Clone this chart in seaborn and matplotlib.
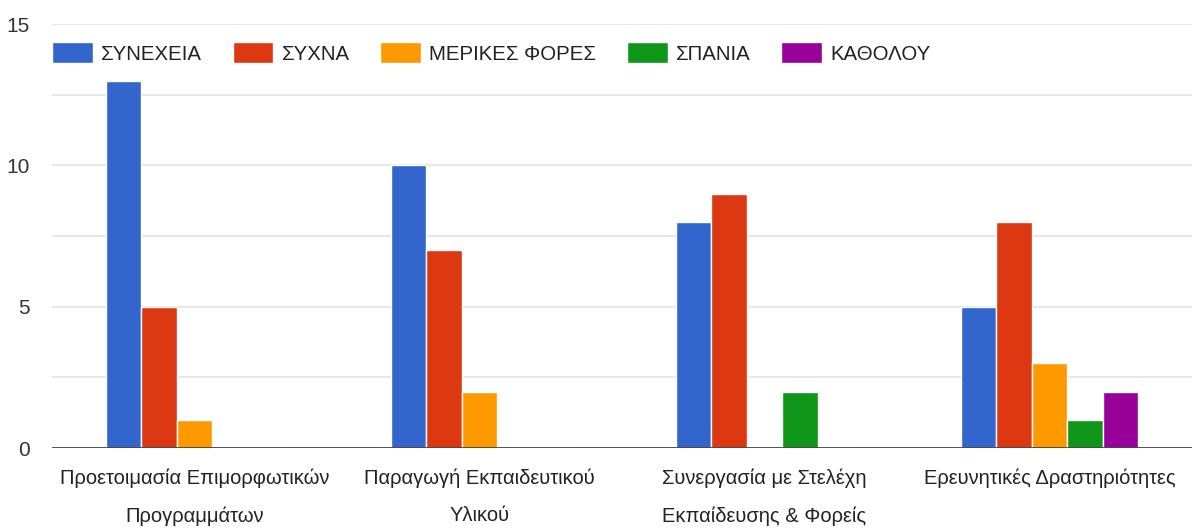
import matplotlib
matplotlib.use("Agg")
import numpy as np
import pandas as pd
import matplotlib.pyplot as plt
import seaborn as sns

# --------------------------------------------------------------------
# Data
# --------------------------------------------------------------------

categories = [
    "Προετοιμασία Επιμορφωτικών\nΠρογραμμάτων",
    "Παραγωγή Εκπαιδευτικού\nΥλικού",
    "Συνεργασία με Στελέχη\nΕκπαίδευσης & Φορείς",
    "Ερευνητικές Δραστηριότητες",
]
series = ["ΣΥΝΕΧΕΙΑ", "ΣΥΧΝΑ", "ΜΕΡΙΚΕΣ ΦΟΡΕΣ", "ΣΠΑΝΙΑ", "ΚΑΘΟΛΟΥ"]
synexeia = [13, 10, 8, 5]
syxna = [5, 7, 9, 8]
merikes = [1, 2, 0, 3]
spania = [0, 0, 2, 1]
katholou = [0, 0, 0, 2]
colors = ["#3366cc", "#dc3912", "#ff9900", "#109618", "#990099"]

rows = []
for name, vals in zip(series, [synexeia, syxna, merikes, spania, katholou]):
    for cat, v in zip(categories, vals):
        rows.append({"category": cat, "series": name, "value": v})
df = pd.DataFrame(rows)

# --------------------------------------------------------------------
# Plot
# --------------------------------------------------------------------

sns.set_style("white")
plt.rcParams["font.family"] = ["Liberation Sans", "DejaVu Sans"]

fig = plt.figure(figsize=(11.92, 5.29), dpi=100)
ax = fig.add_axes([0.0436, 0.153, 0.9564, 0.8016])

sns.barplot(data=df, x="category", y="value", hue="series", order=categories,
            hue_order=series, palette=colors, width=0.62, saturation=1,
            edgecolor="white", linewidth=1, ax=ax)

ax.set_ylim(0, 15)
ax.set_xlim(-0.5, 3.5)
ax.set_yticks([0, 5, 10, 15])
ax.set_yticks(np.arange(0, 15.1, 2.5), minor=True)
ax.yaxis.grid(True, which="both", color="#e8e8e8", linewidth=1.5)
ax.set_axisbelow(True)
ax.axhline(0, color="#444444", linewidth=2)
for s in ax.spines.values():
    s.set_visible(False)

ax.tick_params(axis="y", which="both", length=0, pad=16, labelsize=15, labelcolor="#333333")
ax.tick_params(axis="x", length=0, pad=15, labelsize=14.5, labelcolor="#222222")
for lbl in ax.get_xticklabels():
    lbl.set_linespacing(2.2)
ax.set_xlabel("")
ax.set_ylabel("")

ax.legend(loc="center left", bbox_to_anchor=(0.0, 0.932), ncol=5, frameon=False,
          fontsize=14.7, handlelength=2.0, handleheight=1.22, handletextpad=0.4,
          columnspacing=1.5, borderaxespad=0, borderpad=0.0,
          labelcolor="#222222")

fig.savefig("out.png", dpi=100)
